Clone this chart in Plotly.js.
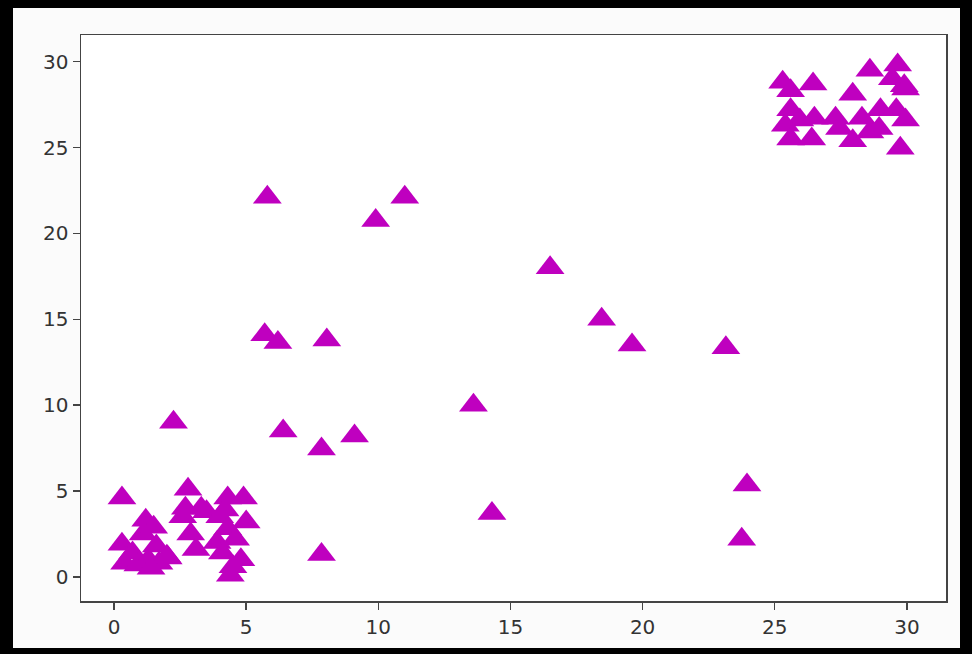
<!DOCTYPE html>
<html>
<head>
<meta charset="utf-8">
<script src="https://cdn.plot.ly/plotly-3.0.1.min.js"></script>
<style>
  html, body { margin: 0; padding: 0; background: #ffffff; }
  #frame {
    position: absolute; left: 0; top: 0;
    width: 972px; height: 654px; box-sizing: border-box;
    border-style: solid; border-color: #000;
    border-width: 8px 12px 6px 13px;
    background: #fbfbfb;
  }
  #chart { width: 947px; height: 640px; }
</style>
</head>
<body>
<div id="frame"><div id="chart"></div></div>
<script>
// Scatter points (x, y)
const xVals = [
  // scattered points
  5.8, 11.0, 9.9, 16.5, 5.7, 6.2, 8.05, 18.45, 19.6, 23.15, 13.6, 2.25, 6.4, 7.85, 9.1,
  14.3, 23.95, 23.75, 7.85, 2.05,
  // bottom-left cluster
  0.3, 0.3, 0.4, 0.7, 0.9, 1.1, 1.2, 1.3, 1.5, 1.6, 1.7, 2.0, 1.4,
  // second bottom cluster
  2.8, 2.7, 2.6, 2.9, 3.1, 3.3, 3.5, 3.9, 4.0, 4.1, 4.3, 4.3, 4.4, 4.5, 4.6, 4.8, 4.9, 5.0, 4.2,
  // top-right cluster
  25.3, 25.6, 26.45, 28.6, 29.65, 29.45, 27.95, 29.9, 25.6, 25.95, 25.4, 25.6, 26.5, 26.4,
  27.3, 27.45, 28.3, 27.95, 28.6, 28.95, 29.6, 29.95, 29.75, 29.95, 29.0
];
const yVals = [
  22.1, 22.1, 20.75, 18.0, 14.1, 13.65, 13.8, 15.0, 13.5, 13.35, 10.0, 9.0, 8.5, 7.45, 8.2,
  3.7, 5.35, 2.2, 1.3, 1.1,
  4.6, 1.9, 0.8, 1.4, 0.7, 2.5, 3.3, 1.0, 2.9, 1.8, 0.8, 1.2, 0.5,
  5.1, 4.0, 3.5, 2.5, 1.6, 4.0, 3.8, 2.0, 3.5, 1.4, 4.6, 2.8, 0.1, 0.6, 2.2, 1.0, 4.6, 3.2, 3.9,
  28.8, 28.3, 28.7, 29.5, 29.8, 29.0, 28.1, 28.6, 27.2, 26.6, 26.3, 25.5, 26.7, 25.5,
  26.7, 26.1, 26.7, 25.4, 25.9, 26.1, 27.2, 26.6, 24.95, 28.4, 27.2
];
const xTicks = [0, 5, 10, 15, 20, 25, 30];
const yTicks = [0, 5, 10, 15, 20, 25, 30];

const trace = {
  type: 'scatter', mode: 'markers',
  x: xVals, y: yVals,
  marker: { symbol: 'triangle-up', size: 25, color: '#bf00bf', line: { width: 0 } },
  hoverinfo: 'skip'
};

const axisCommon = {
  showgrid: false, zeroline: false,
  showline: true, mirror: true, linecolor: '#444', linewidth: 1.5,
  ticks: 'outside', ticklen: 7, tickwidth: 1.5, tickcolor: '#444',
  tickfont: { family: 'DejaVu Sans', size: 20, color: '#333' },
  tickmode: 'array'
};

const layout = {
  width: 947, height: 640,
  margin: { l: 68, r: 14, t: 27, b: 47 },
  paper_bgcolor: '#fbfbfb', plot_bgcolor: '#ffffff',
  showlegend: false,
  xaxis: Object.assign({}, axisCommon, { range: [-1.25, 31.48], tickvals: xTicks, ticktext: xTicks.map(String) }),
  yaxis: Object.assign({}, axisCommon, { range: [-1.4, 31.55], tickvals: yTicks, ticktext: yTicks.map(String) })
};

Plotly.newPlot('chart', [trace], layout, { displayModeBar: false, staticPlot: true });
</script>
</body>
</html>
